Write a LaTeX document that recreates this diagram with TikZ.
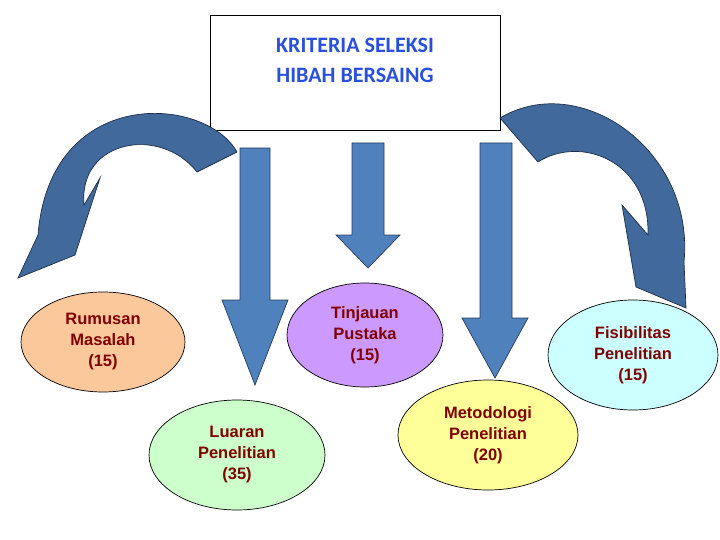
\documentclass[tikz,border=0pt]{standalone}
\usepackage{fontspec}
\usetikzlibrary{shapes.geometric}
\setmainfont{Liberation Sans}
\newfontfamily\titlefont{Carlito}
\begin{document}
\begin{tikzpicture}[x=1pt,y=-1pt,
  arr/.style={fill={rgb,255:red,79;green,129;blue,189},draw={rgb,255:red,40;green,60;blue,90},line width=0.7pt},
  curv/.style={fill={rgb,255:red,65;green,105;blue,155},draw={rgb,255:red,30;green,45;blue,70},line width=0.7pt},
  oval/.style={ellipse,draw=black,line width=0.7pt,align=center,inner sep=0pt,font=\bfseries\fontsize{16.5}{21}\selectfont,text={rgb,255:red,128;green,0;blue,0}}]
\useasboundingbox (0,0) rectangle (720,540);
% title box
\node[draw=black,line width=1.2pt,minimum width=290pt,minimum height=115pt,anchor=north west,align=center] (box) at (210,15) {};
\node[align=center,font=\titlefont\bfseries\fontsize{22}{30}\selectfont,text={rgb,255:red,40;green,80;blue,220}] (title) at (355,60) {KRITERIA SELEKSI\\HIBAH BERSAING};
% ellipses
\node[oval,fill={rgb,255:red,250;green,200;blue,155},minimum width=164pt,minimum height=100pt] (rm) at (103,342) {Rumusan\\Masalah\\(15)};
\node[oval,fill={rgb,255:red,204;green,255;blue,204},minimum width=176pt,minimum height=110pt] (lp) at (237,455) {Luaran\\Penelitian\\(35)};
\node[oval,fill={rgb,255:red,204;green,153;blue,255},minimum width=156pt,minimum height=104pt] (tp) at (365,335) {Tinjauan\\Pustaka\\(15)};
\node[oval,fill={rgb,255:red,255;green,255;blue,153},minimum width=180pt,minimum height=110pt] (mp) at (488,435) {Metodologi\\Penelitian\\(20)};
\node[oval,fill={rgb,255:red,204;green,255;blue,255},minimum width=170pt,minimum height=110pt] (fp) at (633,355) {Fisibilitas\\Penelitian\\(15)};
% straight arrows
\draw[arr] (240,148) -- (270,148) -- (270,300) -- (288,300) -- (255,385) -- (222,300) -- (240,300) -- cycle;
\draw[arr] (352,143) -- (384,143) -- (384,235) -- (400,235) -- (368,268) -- (336,235) -- (352,235) -- cycle;
\draw[arr] (480,143) -- (512,143) -- (512,318) -- (528,318) -- (495,378) -- (462,318) -- (480,318) -- cycle;
% curved arrows
\draw[curv] (237,152) .. controls (205,95) and (50,85) .. (38,235) -- (18,278) -- (75,255) -- (100,178) -- (84,205) .. controls (78,140) and (160,125) .. (197,172) -- cycle;
\draw[curv] (500,118) .. controls (580,70) and (695,150) .. (684,262) -- (686,308) -- (636,287) -- (622,205) -- (648,235) .. controls (650,160) and (580,135) .. (538,162) -- cycle;
\end{tikzpicture}
\end{document}
